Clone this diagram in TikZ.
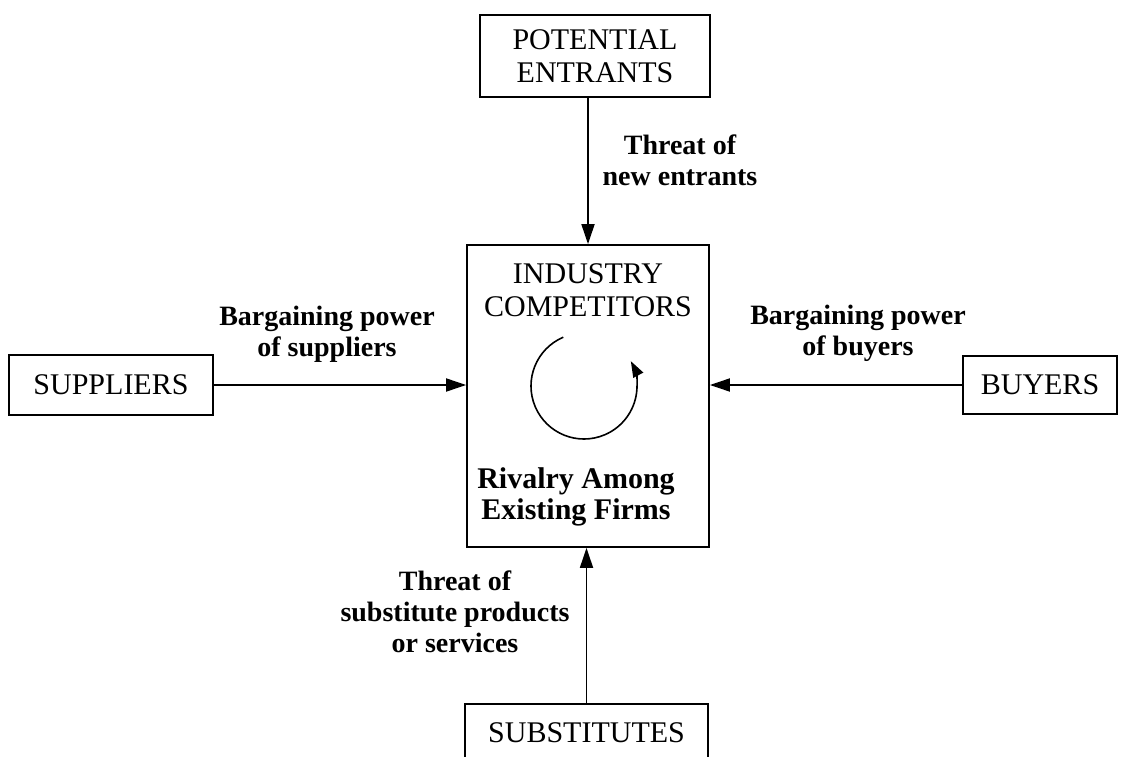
\documentclass[tikz,border=0pt]{standalone}
\usepackage{fontspec}
\setmainfont{Liberation Serif}
\usetikzlibrary{arrows.meta}
\begin{document}
\begin{tikzpicture}[x=1pt,y=-1pt,
  box/.style={draw,line width=1.8pt,inner sep=0pt,align=center,font=\fontsize{30}{33}\selectfont},
  lbl/.style={align=center,font=\fontsize{28}{31}\selectfont\bfseries},
  arr/.style={line width=1.8pt,-{Triangle[length=20pt,width=13pt]}}]
\clip (0,0) rectangle (1122,757);
\fill[white] (0,0) rectangle (1122,757);
\node[box,minimum width=230pt,minimum height=82pt] (pe) at (595,56) {POTENTIAL\\ENTRANTS};
\node[box,minimum width=242pt,minimum height=302pt] (ic) at (588,396) {};
\node[box,minimum width=204pt,minimum height=60pt] (sup) at (111,385) {SUPPLIERS};
\node[box,minimum width=154pt,minimum height=58pt] (buy) at (1040,385) {BUYERS};
\node[box,minimum width=243pt,minimum height=58pt] (sub) at (586.5,733) {SUBSTITUTES};
\node[align=center,font=\fontsize{30}{33}\selectfont] (ict) at (588,290) {INDUSTRY\\COMPETITORS};
\node[align=center,font=\fontsize{30}{31}\selectfont\bfseries] (riv) at (576,497) {Rivalry Among\\Existing Firms};
\draw[line width=1.6pt,-{Triangle[length=16pt,width=11pt]}] (584,386) ++(-113:53) arc[start angle=-113,end angle=-388,radius=53];
\draw[arr] (pe.south -| ic.north) -- (ic.north);
\draw[arr] (sub.north) -- (sub.north |- ic.south);
\draw[arr] (sup.east) -- (sup.east -| ic.west);
\draw[arr] (buy.west) -- (buy.west -| ic.east);
\node[lbl] (l1) at (680,160) {Threat of\\new entrants};
\node[lbl] (l2) at (327,334) {Bargaining power\\of suppliers};
\node[lbl] (l3) at (858,333) {Bargaining power\\of buyers};
\node[lbl] (l4) at (455,612) {Threat of\\substitute products\\or services};
\end{tikzpicture}
\end{document}
